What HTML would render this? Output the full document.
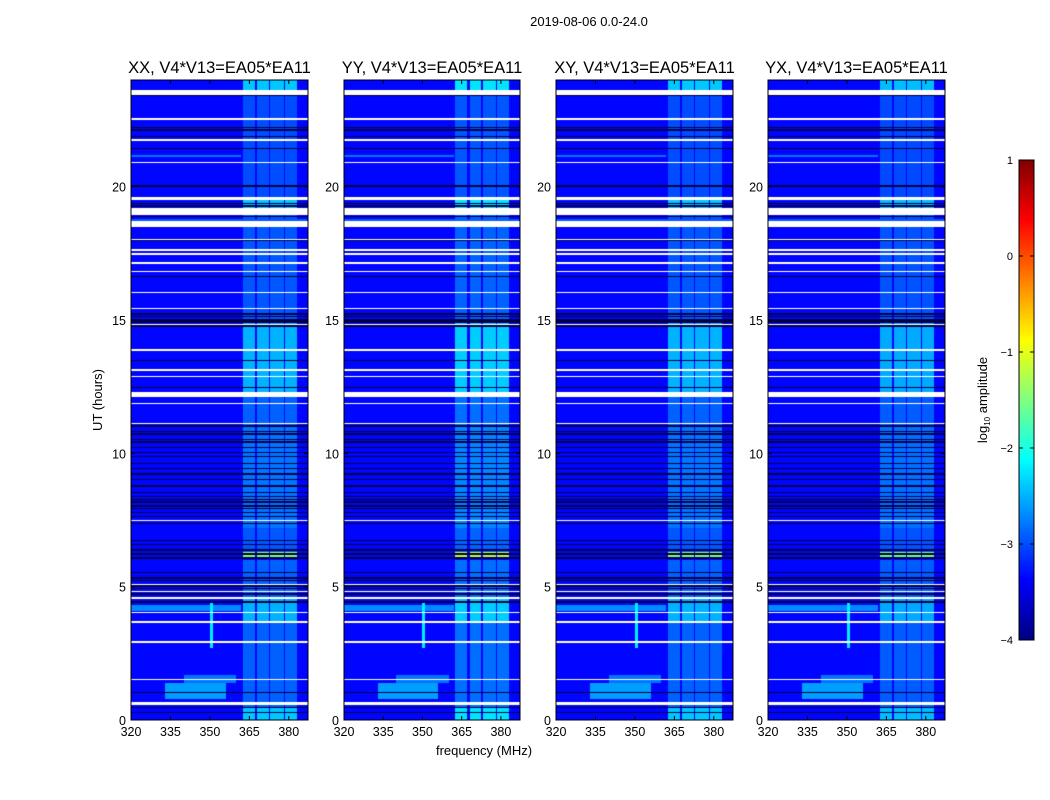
<!DOCTYPE html>
<html><head><meta charset="utf-8"><style>
body{margin:0;background:#fff;}
#wrap{position:relative;width:1050px;height:800px;overflow:hidden;background:#fff;font-family:"Liberation Sans",sans-serif;}
canvas{position:absolute;}
svg{position:absolute;left:0;top:0;}
</style></head><body>
<div id="wrap">
<canvas id="c0" width="177" height="640" style="left:131px;top:80px"></canvas>
<canvas id="c1" width="176" height="640" style="left:344px;top:80px"></canvas>
<canvas id="c2" width="177" height="640" style="left:556px;top:80px"></canvas>
<canvas id="c3" width="177" height="640" style="left:768px;top:80px"></canvas>
<canvas id="cb" width="15" height="480" style="left:1019px;top:160px"></canvas>
<svg id="ov" width="1050" height="800"></svg>
</div>
<script>
// ---- data ----
const panelTitles = ["XX, V4*V13=EA05*EA11","YY, V4*V13=EA05*EA11","XY, V4*V13=EA05*EA11","YX, V4*V13=EA05*EA11"];
const panelBandGain = [1.0, 1.15, 1.0, 0.95];
const xTicks = [320,335,350,365,380];
const yTicks = [0,5,10,15,20];
const cbTicks = [1,0,-1,-2,-3,-4];
const baseLevel = -3.35;
const bandStrips = [[362.6,367],[368,372.5],[373,378],[378.5,383]];
const bandSegments = [[0,0.5,0.95],[0.5,3.7,0.45],[3.7,4.6,0.85],[4.6,6.0,0.45],[6.1,6.3,1.9],[6.3,7.2,0.4],[7.2,11,0.55],[11,12.3,0.45],[12.3,15,0.85],[15,19.1,0.4],[19.1,19.5,0.95],[19.6,23.5,0.35],[23.6,24,0.95]];
const features = [[0.8,1.4,333,356,-2.6],[1.4,1.7,340,360,-2.8],[4.1,4.3,320,362,-2.7],[21.1,21.2,320,362,-2.8],[2.7,4.4,350,351,-2.2],[18.6,18.8,320,387,-2.95]];
const whiteRows = [[23.45,23.62],[22.5,22.56],[21.72,21.78],[20.88,20.94],[19.5,19.62],[18.95,19.2],[18.5,18.7],[18.0,18.05],[17.6,17.65],[17.45,17.5],[17.1,17.16],[16.8,16.85],[16.0,16.05],[15.4,15.45],[14.8,14.85],[13.85,13.9],[13.1,13.15],[12.85,12.9],[12.1,12.3],[11.85,11.9],[11.1,11.15],[7.45,7.5],[5.05,5.1],[4.8,4.85],[4.55,4.6],[4.0,4.05],[3.65,3.7],[2.9,2.95],[1.5,1.55],[0.55,0.68]];
const blackRows = [23.4,22.2,22.1,21.85,21.4,20.0,19.35,19.25,18.85,17.95,16.6,15.2,15.1,15.0,14.95,14.9,14.75,13.45,12.45,11.0,10.8,10.7,10.5,10.4,10.2,10.0,9.85,9.6,9.4,9.2,9.0,8.75,8.5,8.35,8.25,8.15,8.0,7.9,7.75,7.6,7.35,6.7,6.55,6.35,6.2,6.05,5.5,5.3,5.2,5.0,4.9,4.7,4.4,1.0,0.45,0.25];

// ---- scales ----
const F0=320,F1=387.3,T0=0,T1=24;
function jet(v){const x=Math.max(0,Math.min(1,(v+4)/5));const c=t=>Math.round(255*Math.max(0,Math.min(1,1.5-Math.abs(4*x-t))));return [c(3),c(2),c(1)];}
function value(f,t,g){
  for(const w of whiteRows) if(t>=w[0]&&t<w[1]) return null;
  for(const b of blackRows) if(t>=b&&t<b+0.05) return -4.6;
  let v=baseLevel;
  for(const ft of features) if(t>=ft[0]&&t<ft[1]&&f>=ft[2]&&f<ft[3]) v=Math.max(v,ft[4]);
  for(const s of bandStrips) if(f>=s[0]&&f<s[1]){for(const sg of bandSegments) if(t>=sg[0]&&t<sg[1]) v=Math.max(v,baseLevel+sg[2]*g);}
  return v;
}
function drawPanel(id,g){
  const cv=document.getElementById(id),ctx=cv.getContext('2d'),W=cv.width,H=cv.height;
  const img=ctx.createImageData(W,H);
  for(let y=0;y<H;y++){const t=T1-(y+0.5)/H*(T1-T0);
    for(let x=0;x<W;x++){const f=F0+(x+0.5)/W*(F1-F0);const v=value(f,t,g);const i=(y*W+x)*4;
      let c=v===null?[255,255,255]:(v<-4.5?[0,0,70]:jet(v));img.data[i]=c[0];img.data[i+1]=c[1];img.data[i+2]=c[2];img.data[i+3]=255;}}
  ctx.putImageData(img,0,0);
}
['c0','c1','c2','c3'].forEach((id,i)=>drawPanel(id,panelBandGain[i]));
(function(){const cv=document.getElementById('cb'),ctx=cv.getContext('2d');for(let y=0;y<480;y++){const c=jet(1-(y+0.5)/480*5);ctx.fillStyle='rgb('+c.join(',')+')';ctx.fillRect(0,y,15,1);}})();

// ---- axes ----
const svg=document.getElementById('ov');const NS='http://www.w3.org/2000/svg';
function el(tag,a,txt){const e=document.createElementNS(NS,tag);for(const k in a)e.setAttribute(k,a[k]);if(txt!==undefined)e.textContent=txt;svg.appendChild(e);return e;}
const lefts=[131,344,556,768],widths=[177,176,177,177],TOP=80,PH=640;
lefts.forEach((L,p)=>{
  const W=widths[p];const xs=f=>L+(f-F0)/(F1-F0)*W;const ys=t=>TOP+PH-(t-T0)/(T1-T0)*PH;
  const fr=el('rect',{x:L,y:TOP,width:W,height:PH,fill:'none',stroke:'#000','stroke-width':1});
  
  
  const tt=el('text',{x:L+W/2,y:73,'text-anchor':'middle','font-size':16.5},panelTitles[p]);
  
  
  xTicks.forEach(v=>{const x=xs(v);el('line',{x1:x,x2:x,y1:TOP+PH,y2:TOP+PH-4,stroke:'#000'});el('line',{x1:x,x2:x,y1:TOP,y2:TOP+4,stroke:'#000'});
    const t=el('text',{x:x,y:736,'text-anchor':'middle','font-size':12.5},v);
    
    });
  yTicks.forEach(v=>{const y=ys(v);el('line',{x1:L,x2:L+4,y1:y,y2:y,stroke:'#000'});el('line',{x1:L+W,x2:L+W-4,y1:y,y2:y,stroke:'#000'});
    const t=el('text',{x:L-5,y:y+5,'text-anchor':'end','font-size':12.5},v);
    
    });
});
let t;
t=el('text',{x:589,y:26,'text-anchor':'middle','font-size':13},'2019-08-06 0.0-24.0');


t=el('text',{x:484,y:755,'text-anchor':'middle','font-size':13},'frequency (MHz)');


t=el('text',{x:0,y:0,'text-anchor':'middle','font-size':13,transform:'translate(102,400) rotate(-90)'},'UT (hours)');


el('rect',{x:1019,y:160,width:15,height:480,fill:'none',stroke:'#000'});
cbTicks.forEach(v=>{const y=160+(1-v)/5*480;el('line',{x1:1019,x2:1023,y1:y,y2:y,stroke:'#000'});el('line',{x1:1034,x2:1030,y1:y,y2:y,stroke:'#000'});
  const tx=el('text',{x:1013,y:y+4,'text-anchor':'end','font-size':11},v<0?'\u2212'+(-v):v);
  
  });
t=el('text',{x:0,y:0,'text-anchor':'middle','font-size':13,transform:'translate(987,400) rotate(-90)'});
t.innerHTML='log<tspan font-size="8" dy="3">10</tspan><tspan dy="-3"> amplitude</tspan>';


</script>
</body></html>
